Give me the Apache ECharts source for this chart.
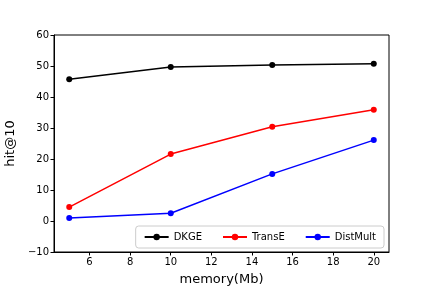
<!DOCTYPE html>
<html><head><meta charset="utf-8">
<script src="https://cdn.jsdelivr.net/npm/echarts@6/dist/echarts.min.js"></script>
<style>html,body{margin:0;padding:0;background:#fff}#c{width:432px;height:288px}</style>
</head><body><div id="c"></div>
<script>
var memory = [5, 10, 15, 20];
var dkge = [45.7, 49.7, 50.3, 50.7];
var transe = [4.5, 21.6, 30.4, 35.9];
var distmult = [1.0, 2.5, 15.2, 26.1];
var xTicks = [6, 8, 10, 12, 14, 16, 18, 20];
var seriesNames = ['DKGE', 'TransE', 'DistMult'];
var colors = ['#000000', '#ff0000', '#0000ff'];

function pairs(ys){ return memory.map(function(x,i){ return [x, ys[i]]; }); }
var all = [dkge, transe, distmult];
var chart = echarts.init(document.getElementById('c'), null, {renderer:'canvas'});
var font = 'DejaVu Sans';
chart.setOption({
  animation: false,
  backgroundColor: '#fff',
  textStyle: {fontFamily: font},
  grid: {left: 54, right: 43, top: 35, bottom: 36, containLabel: false, outerBoundsMode: 'none',
    show: true, borderColor: '#000', borderWidth: 1, backgroundColor: 'transparent'},
  legend: {
    data: seriesNames,
    right: 48, bottom: 40,
    orient: 'horizontal',
    itemWidth: 24, itemHeight: 8, itemGap: 20,
    padding: [6, 8, 6, 8],
    borderColor: '#cccccc', borderWidth: 1, borderRadius: 3,
    backgroundColor: 'rgba(255,255,255,0.8)',
    textStyle: {fontSize: 10, color: '#000', fontFamily: font}
  },
  xAxis: {
    type: 'value', min: 4.25, max: 20.75,
    name: 'memory(Mb)', nameLocation: 'middle', nameGap: 21,
    nameTextStyle: {fontSize: 13, color: '#000', fontFamily: font},
    axisLine: {show: true, onZero: false, lineStyle: {color: '#000', width: 1}},
    axisTick: {show: true, inside: false, length: 3.5, customValues: xTicks, lineStyle: {color: '#000'}},
    axisLabel: {customValues: xTicks, fontSize: 10, color: '#000', margin: 5, fontFamily: font},
    splitLine: {show: false}
  },
  yAxis: {
    type: 'value', min: -10, max: 60, interval: 10,
    name: 'hit@10', nameLocation: 'middle', nameGap: 26, nameRotate: 90,
    nameTextStyle: {fontSize: 13, color: '#000', fontFamily: font},
    axisLine: {show: true, onZero: false, lineStyle: {color: '#000', width: 1}},
    axisTick: {show: true, inside: false, length: 3.5, lineStyle: {color: '#000'}},
    axisLabel: {fontSize: 10, color: '#000', margin: 5, fontFamily: font,
      formatter: function(v){ return v < 0 ? '\u2212' + Math.abs(v) : String(v); }},
    splitLine: {show: false}
  },
  series: seriesNames.map(function(n, i){
    return {
      name: n, type: 'line', data: pairs(all[i]),
      symbol: 'circle', symbolSize: 6, showSymbol: true,
      lineStyle: {color: colors[i], width: 1.5},
      itemStyle: {color: colors[i], borderWidth: 0}
    };
  })
});
</script></body></html>
